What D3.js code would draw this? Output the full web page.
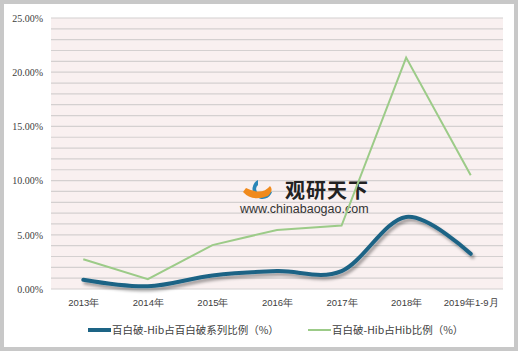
<!DOCTYPE html>
<html>
<head>
<meta charset="utf-8">
<script src="https://cdn.jsdelivr.net/npm/d3@7"></script>
<style>
  html, body { margin: 0; padding: 0; background: #fff; }
  svg { display: block; }
</style>
</head>
<body>
<div id="chart"></div>
<script>
const categories = ['2013年', '2014年', '2015年', '2016年', '2017年', '2018年', '2019年1-9月'];
const seriesNames = ['百白破-Hib占百白破系列比例（%）', '百白破-Hib占Hib比例（%）'];
const dtapHibShare = [0.85, 0.25, 1.25, 1.65, 1.65, 6.65, 3.25];
const hibShare = [2.75, 0.9, 4.05, 5.45, 5.85, 21.35, 10.5];
const yTicks = [0, 5, 10, 15, 20, 25];

const width = 520, height = 353;
const margin = { left: 51, right: 17, top: 18, bottom: 64 };

const svg = d3.select('#chart').append('svg')
  .attr('width', width)
  .attr('height', height)
  .style('font-family', '"Noto Sans CJK SC", sans-serif');

// outer frame
svg.append('rect')
  .attr('x', 2).attr('y', 2)
  .attr('width', width - 6).attr('height', height - 6)
  .attr('fill', '#fff')
  .attr('stroke', '#c8c8c8')
  .attr('stroke-width', 4);

const x = d3.scalePoint()
  .domain(categories)
  .range([margin.left, width - margin.right])
  .padding(0.5);

const y = d3.scaleLinear()
  .domain([0, 25])
  .range([height - margin.bottom, margin.top]);

// plot background
svg.append('rect')
  .attr('x', margin.left).attr('y', margin.top)
  .attr('width', width - margin.left - margin.right)
  .attr('height', y(0) - margin.top)
  .attr('fill', '#f9f0f0');

// grid lines every 1%
svg.append('g')
  .selectAll('line')
  .data(d3.range(0, 26))
  .join('line')
  .attr('x1', margin.left)
  .attr('x2', width - margin.right)
  .attr('y1', d => y(d))
  .attr('y2', d => y(d))
  .attr('stroke', '#d4d0d0')
  .attr('stroke-width', 1.2);

// y axis
const yAxis = svg.append('g')
  .attr('transform', `translate(${margin.left},0)`)
  .call(d3.axisLeft(y).tickValues(yTicks).tickSize(0).tickPadding(8)
    .tickFormat(d => d3.format('.2f')(d) + '%'));
yAxis.select('.domain').remove();
yAxis.selectAll('text')
  .attr('fill', '#404040')
  .style('font-size', '10px')
  .style('font-family', '"Liberation Serif", serif');

// x axis
const xAxis = svg.append('g')
  .attr('transform', `translate(0,${y(0)})`)
  .call(d3.axisBottom(x).tickSize(0).tickPadding(10));
xAxis.select('.domain').remove();
xAxis.selectAll('text')
  .attr('fill', '#404040')
  .style('font-size', '9.5px');

// watermark
const wm = svg.append('g');
wm.append('path')
  .attr('d', 'M258,180 A10,10 0 1,0 272,192 L266,190 A5,5 0 1,1 258,185 Z')
  .attr('fill', '#2a86b8');
wm.append('path')
  .attr('d', 'M243,192 Q252,202 268,196 Q274,190 270,186 Q262,196 246,188 Z')
  .attr('fill', '#f08a1c');
wm.append('text')
  .attr('x', 285).attr('y', 198)
  .attr('fill', '#222')
  .style('font-size', '20px')
  .style('font-weight', 'bold')
  .style('letter-spacing', '1px')
  .text('观研天下');
wm.append('text')
  .attr('x', 240).attr('y', 213)
  .attr('fill', '#333')
  .style('font-size', '12.5px')
  .style('font-family', '"Liberation Sans", Arial, sans-serif')
  .text('www.chinabaogao.com');

// lines
const hibLine = d3.line()
  .x((d, i) => x(categories[i]))
  .y(d => y(d));

svg.append('path')
  .datum(hibShare)
  .attr('fill', 'none')
  .attr('stroke', '#9ccb88')
  .attr('stroke-width', 2)
  .attr('d', hibLine);

const smoothLine = d3.line()
  .x((d, i) => x(categories[i]))
  .y(d => y(d))
  .curve(d3.curveCardinal.tension(0));

const defs = svg.append('defs');
const shadow = defs.append('filter').attr('id', 'shadow')
  .attr('x', '-10%').attr('y', '-10%').attr('width', '120%').attr('height', '140%');
shadow.append('feDropShadow')
  .attr('dx', 2).attr('dy', 3).attr('stdDeviation', 1.8)
  .attr('flood-color', '#000').attr('flood-opacity', 0.35);

svg.append('path')
  .datum(dtapHibShare)
  .attr('fill', 'none')
  .attr('stroke', '#1d6485')
  .attr('stroke-width', 4)
  .attr('stroke-linecap', 'round')
  .attr('filter', 'url(#shadow)')
  .attr('d', smoothLine);

// legend
const legend = svg.append('g').style('font-size', '10.5px');
const legendItems = [
  { name: seriesNames[0], color: '#1d6485', w: 4, x: 88 },
  { name: seriesNames[1], color: '#9ccb88', w: 2, x: 308 }
];
legendItems.forEach(it => {
  legend.append('line')
    .attr('x1', it.x).attr('x2', it.x + 23)
    .attr('y1', 330).attr('y2', 330)
    .attr('stroke', it.color)
    .attr('stroke-width', it.w);
  legend.append('text')
    .attr('x', it.x + 24).attr('y', 334)
    .attr('fill', '#404040')
    .text(it.name);
});
</script>
</body>
</html>
